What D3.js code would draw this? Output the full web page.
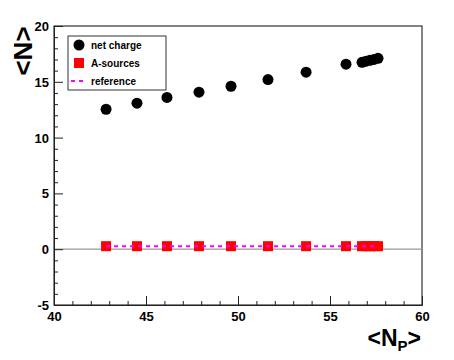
<!DOCTYPE html>
<html>
<head>
<meta charset="utf-8">
<script src="https://cdn.jsdelivr.net/npm/d3@7"></script>
<style>
  body { margin: 0; background: #fff; }
  svg text { font-family: "Liberation Sans", Arial, sans-serif; font-weight: bold; }
</style>
</head>
<body>
<svg width="454" height="360"></svg>
<script>
// participant values
var npart = [42.83, 44.51, 46.14, 47.88, 49.62, 51.63, 53.70, 55.87, 56.74, 56.96, 57.17, 57.39, 57.61];
var netCharge = [12.54, 13.08, 13.6, 14.07, 14.6, 15.2, 15.86, 16.58, 16.75, 16.85, 16.92, 17.0, 17.1];
var aSources = [0.27, 0.27, 0.27, 0.27, 0.27, 0.27, 0.27, 0.27, 0.27, 0.27, 0.27, 0.27, 0.27];
var refValue = 0.27;
var xTicks = [40, 45, 50, 55, 60];
var yTicks = [-5, 0, 5, 10, 15, 20];
var legendLabels = ["net charge", "A-sources", "reference"];

var svg = d3.select("svg");
// plot frame (note: "top" is reserved on window, so use frame names)
var fLeft = 54, fRight = 422, fTop = 26, fBottom = 305;

var x = d3.scaleLinear().domain([40, 60]).range([fLeft, fRight]);
var y = d3.scaleLinear().domain([-5, 20]).range([fBottom, fTop]);

// frame
svg.append("rect")
    .attr("x", fLeft).attr("y", fTop)
    .attr("width", fRight - fLeft).attr("height", fBottom - fTop)
    .attr("fill", "none").attr("stroke", "#333").attr("stroke-width", 1.2);

// zero line
svg.append("line")
    .attr("x1", fLeft).attr("x2", fRight)
    .attr("y1", y(0)).attr("y2", y(0))
    .attr("stroke", "#999").attr("stroke-width", 1.2);

// axes with ticks inside
var xAxis = svg.append("g").attr("transform", "translate(0," + fBottom + ")")
    .call(d3.axisBottom(x).tickValues(d3.range(40, 61, 1)).tickSize(-4).tickFormat(""));
xAxis.selectAll(".tick line").filter(function(d) { return xTicks.indexOf(d) >= 0; }).attr("y2", -9);
xAxis.selectAll(".tick").filter(function(d) { return xTicks.indexOf(d) >= 0; }).append("text")
    .attr("y", 16).attr("text-anchor", "middle").attr("fill", "#000")
    .style("font-size", "13px")
    .text(function(d) { return d; });

var yAxis = svg.append("g").attr("transform", "translate(" + fLeft + ",0)")
    .call(d3.axisLeft(y).tickValues(d3.range(-5, 21, 1)).tickSize(-4).tickFormat(""));
yAxis.selectAll(".tick line").filter(function(d) { return yTicks.indexOf(d) >= 0; }).attr("x2", 9);
yAxis.selectAll(".tick").filter(function(d) { return yTicks.indexOf(d) >= 0; }).append("text")
    .attr("x", -5).attr("dy", "0.35em").attr("text-anchor", "end").attr("fill", "#000")
    .style("font-size", "13px")
    .text(function(d) { return d; });
svg.selectAll(".domain").attr("stroke", "#222");
svg.selectAll(".tick line").attr("stroke", "#222");

// A-sources squares
svg.append("g").selectAll("rect")
    .data(npart)
    .enter().append("rect")
    .attr("x", function(d) { return x(d) - 5; })
    .attr("y", function(d, i) { return y(aSources[i]) - 5; })
    .attr("width", 10).attr("height", 10)
    .attr("fill", "#ff0000");

// reference line on top of the squares
svg.append("line")
    .attr("x1", x(npart[0])).attr("x2", x(npart[npart.length - 1]))
    .attr("y1", y(refValue)).attr("y2", y(refValue))
    .attr("stroke", "#ff00ff").attr("stroke-width", 2).attr("stroke-dasharray", "4,4");

// net charge circles
svg.append("g").selectAll("circle")
    .data(npart)
    .enter().append("circle")
    .attr("cx", function(d) { return x(d); })
    .attr("cy", function(d, i) { return y(netCharge[i]); })
    .attr("r", 5.5)
    .attr("fill", "#000");

// legend
var legend = svg.append("g");
legend.append("rect")
    .attr("x", 68).attr("y", 36).attr("width", 98).attr("height", 54)
    .attr("fill", "#fff").attr("stroke", "#333").attr("stroke-width", 1);
legend.append("circle").attr("cx", 79).attr("cy", 45).attr("r", 5.5).attr("fill", "#000");
legend.append("rect").attr("x", 74).attr("y", 58).attr("width", 10).attr("height", 10).attr("fill", "#ff0000");
legend.append("line").attr("x1", 71).attr("x2", 86).attr("y1", 81).attr("y2", 81)
    .attr("stroke", "#ff00ff").attr("stroke-width", 2).attr("stroke-dasharray", "4,4");
legend.selectAll("text")
    .data(legendLabels)
    .enter().append("text")
    .attr("x", 91).attr("y", function(d, i) { return 45 + i * 18; })
    .attr("dy", "0.35em")
    .style("font-size", "10px")
    .text(function(d) { return d; });

// axis titles
svg.append("text")
    .attr("transform", "translate(32,51) rotate(-90)")
    .attr("text-anchor", "middle")
    .style("font-size", "26px")
    .text("<N>");

var xt = svg.append("text")
    .attr("x", 421).attr("y", 346)
    .attr("text-anchor", "end")
    .style("font-size", "23px");
xt.append("tspan").text("<N");
xt.append("tspan").attr("dy", 5).style("font-size", "15px").text("P");
xt.append("tspan").attr("dy", -5).text(">");
</script>
</body>
</html>
